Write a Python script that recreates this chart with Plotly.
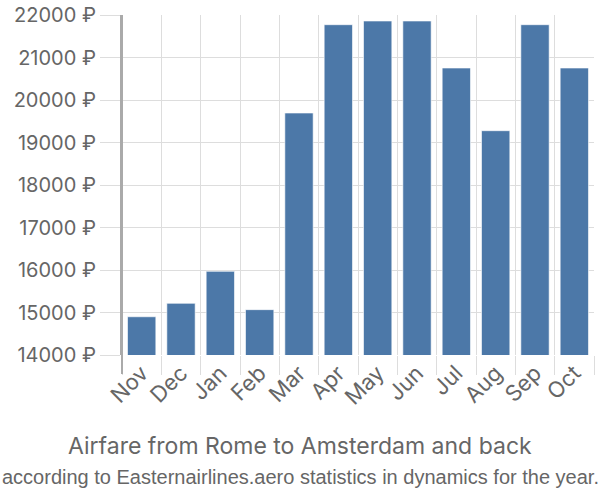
import plotly.graph_objects as go

months = ["Nov", "Dec", "Jan", "Feb", "Mar", "Apr", "May", "Jun", "Jul", "Aug", "Sep", "Oct"]
prices = [14900, 15216, 15969, 15067, 19694, 21772, 21859, 21859, 20753, 19278, 21772, 20753]
y_ticks = [14000, 15000, 16000, 17000, 18000, 19000, 20000, 21000, 22000]
y_labels = [f"{v} ₽" for v in y_ticks]

fig = go.Figure(go.Bar(
    x=months, y=prices,
    marker=dict(color="#4c78a8", line=dict(color="rgba(255,255,255,0.6)", width=1)),
))

font = "Inter, Liberation Sans, sans-serif"
sub = "Liberation Sans, Arial, sans-serif"
fig.update_layout(
    width=600, height=500,
    margin=dict(l=122, r=6, t=15, b=145),
    plot_bgcolor="white", paper_bgcolor="white",
    bargap=0.28,
    showlegend=False,
    font=dict(family=font, color="#666"),
    xaxis=dict(
        type="category", tickson="boundaries", showgrid=True, gridcolor="#ddd", gridwidth=1,
        ticks="outside", ticklen=19, tickcolor="#ddd", tickangle=-45,
        tickfont=dict(size=22, color="#666", family=font),
        showline=False, zeroline=False, automargin=False,
    ),
    yaxis=dict(
        range=[14000, 22000], tickvals=y_ticks, ticktext=y_labels,
        showgrid=True, gridcolor="#ddd", gridwidth=1,
        ticks="outside", ticklen=20, tickcolor="#ddd",
        tickfont=dict(size=20, color="#666", family=font),
        showline=True, linecolor="#aaa", linewidth=2, zeroline=False, automargin=False,
    ),
    shapes=[dict(type="line", xref="paper", yref="paper", x0=0, x1=0,
                 y0=-19/340, y1=1, line=dict(color="#aaa", width=2))],
)
fig.add_annotation(text="Airfare from Rome to Amsterdam and back", xref="paper", yref="paper",
                   x=(300 - 122) / 472, xanchor="center", y=-(446 - 355) / 340, yanchor="middle",
                   showarrow=False, font=dict(size=23, color="#666", family=font))
fig.add_annotation(text="according to Easternairlines.aero statistics in dynamics for the year.",
                   xref="paper", yref="paper",
                   x=(300 - 122) / 472, xanchor="center", y=-(477 - 355) / 340, yanchor="middle",
                   showarrow=False, font=dict(size=20, color="#666", family=sub))

fig.write_html("out.html")
